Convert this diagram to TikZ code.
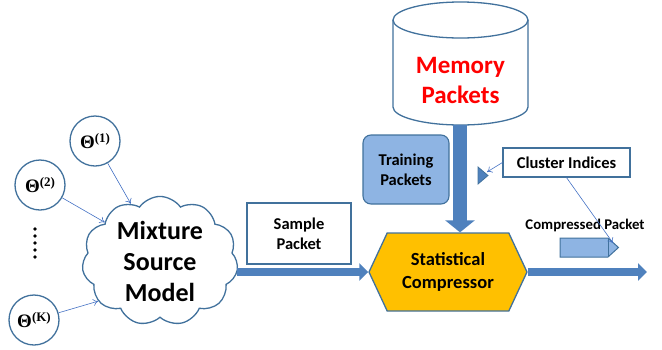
\documentclass[tikz,border=0pt]{standalone}
\usepackage{fontspec}
\setmainfont{Carlito}
\newfontfamily\thetafont{Liberation Serif}
\usetikzlibrary{shapes.geometric,shapes.symbols,arrows.meta,calc}
\definecolor{edgeblue}{HTML}{41719C}
\definecolor{linkblue}{HTML}{4472C4}
\definecolor{flowblue}{HTML}{4F81BD}
\definecolor{paleblue}{HTML}{8EB4E3}
\definecolor{goldfill}{HTML}{FFC000}
\newcommand{\param}[1]{{\thetafont\bfseries\fontsize{19}{19}\selectfont\char"0398\raisebox{5.5pt}{\fontsize{13}{13}\selectfont(#1)}}}
\begin{document}
\begin{tikzpicture}[x=1pt,y=-1pt,
  param/.style={circle, draw=edgeblue, line width=1.3pt, minimum size=50pt, inner sep=0pt, fill=white},
  link/.style={draw=linkblue, line width=0.6pt, -{To[length=5pt,width=7pt]}},
  flow/.style={draw=flowblue, line width=8pt, -{Triangle[length=9pt,width=17pt]}},
  textbox/.style={draw=edgeblue, line width=1.1pt, fill=white, inner sep=0pt,
    font=\bfseries\fontsize{16.5}{20}\selectfont, align=center}
]
\useasboundingbox (0,0) rectangle (662,349);

% memory store (cylinder)
\draw[edgeblue, line width=1.3pt, fill=white]
  (393,20) -- (393,107)
  .. controls (393,116.9) and (423.2,125) .. (460.5,125)
  .. controls (497.8,125) and (528,116.9) .. (528,107) -- (528,20);
\draw[edgeblue, line width=1.3pt, fill=white] (460.5,20) ellipse [x radius=67.5, y radius=18];
\node[text=red, font=\bfseries\fontsize{25}{30}\selectfont, align=center] (mem) at (460.5,80) {Memory\\Packets};
\coordinate (membot) at (460,125);

% parameter circles
\node[param] (t1) at (95,141) {\param{1}};
\node[param] (t2) at (40,185) {\param{2}};
\node[param] (tk) at (34,320) {\param{K}};
\foreach \k in {0,...,4} \fill[black] (35,229+7*\k) circle[radius=1.8];

% mixture source model
\node[cloud, cloud puffs=11, cloud puff arc=110, aspect=1.2, draw=edgeblue, line width=1.3pt,
  fill=white, minimum width=156pt, minimum height=128pt, inner sep=0pt, align=center,
  font=\bfseries\fontsize{26}{31}\selectfont] (cloud) at (160,261) {Mixture\\Source\\Model};

\draw[link] (t1) -- (cloud.117);
\draw[link] (t2) -- (cloud.145);
\draw[link] (tk) -- (cloud.213);

% boxes
\node[textbox, minimum width=104pt, minimum height=61pt] (sample) at (299,233.5) {Sample\\Packet};
\node[rounded corners=8pt, draw=edgeblue, fill=paleblue, line width=1.1pt, inner sep=0pt,
  minimum width=86pt, minimum height=69pt, align=center,
  font=\bfseries\fontsize{16.5}{20}\selectfont] (train) at (406,169.5) {Training\\Packets};
\node[textbox, minimum width=127pt, minimum height=29pt] (cluster) at (566.5,162.5) {Cluster Indices};

% compressor
\node[signal, signal to=east and west, signal pointer angle=130, draw=edgeblue, line width=1.3pt,
  fill=goldfill, minimum width=158pt, minimum height=78pt, inner sep=0pt, align=center,
  font=\bfseries\fontsize{18.5}{23}\selectfont] (comp) at (448,272) {Statistical\\Compressor};

% main flow
\draw[flow] (cloud.east |- comp.west) -- (comp.west);
\coordinate (out) at (647,272);
\draw[flow] (comp.east) -- (out);
\draw[flow, line width=14pt, -{Triangle[length=12pt,width=29pt]}] (membot) -- (membot |- comp.north);

% cluster index marker
\draw[edgeblue, fill=flowblue, line width=0.8pt] (478,167) -- (488,175.5) -- (478,184) -- cycle;
\coordinate (ind) at (487,172);
\draw[link] (cluster.west) -- (ind);

% compressed packet
\draw[edgeblue, fill=paleblue, line width=1pt]
  (560,238) -- (608,238) -- (618.5,247.5) -- (608,257) -- (560,257) -- cycle;
\draw[edgeblue, line width=1pt] (608,238) -- (608,257);
\coordinate (cpk) at (613,243);
\node[font=\bfseries\fontsize{14.8}{18}\selectfont] (cptext) at (585,225) {Compressed Packet};
\draw[link] (cluster.south) -- (cpk);
\end{tikzpicture}
\end{document}
